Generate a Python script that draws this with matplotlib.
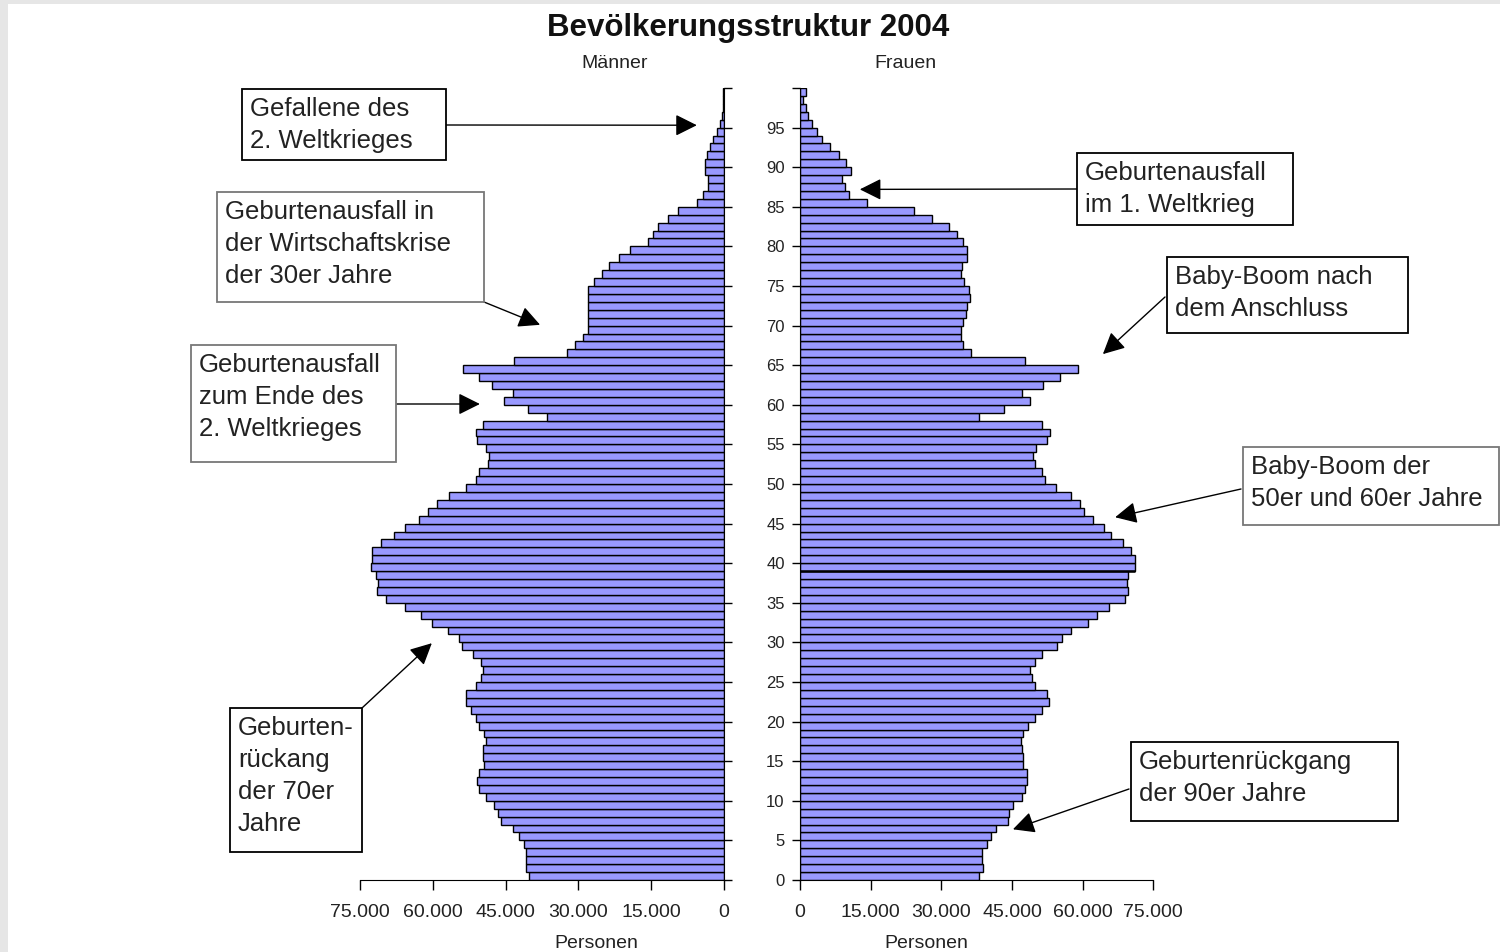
import numpy as np
import matplotlib
matplotlib.use("Agg")
import matplotlib.pyplot as plt
from matplotlib.patches import Rectangle

plt.rcParams['font.family'] = ['Liberation Sans', 'DejaVu Sans']

# Altersjahre 0..99, Werte in Tausend Personen
ages = np.arange(100)

men = [40.1, 40.7, 40.8, 40.8, 41.3, 42.2, 43.5, 46.0, 46.6, 47.3,
       49.1, 50.4, 50.8, 50.4, 49.4, 49.7, 49.7, 49.0, 49.5, 50.4,
       51.1, 52.1, 53.2, 53.2, 51.1, 50.1, 49.7, 50.1, 51.8, 54.0,
       54.7, 56.8, 60.2, 62.4, 65.7, 69.7, 71.4, 71.2, 71.7, 72.8,
       72.5, 72.5, 70.7, 67.9, 65.7, 62.8, 60.9, 59.2, 56.7, 53.2,
       51.1, 50.4, 48.7, 48.4, 49.0, 50.8, 51.1, 49.7, 36.5, 40.3,
       45.3, 43.5, 47.7, 50.4, 53.7, 43.3, 32.4, 30.6, 29.1, 28.1,
       28.1, 28.1, 28.1, 28.0, 28.0, 26.8, 25.2, 23.6, 21.6, 19.4,
       15.6, 14.7, 13.5, 11.5, 9.4, 5.6, 4.3, 3.2, 3.2, 3.9,
       3.9, 3.6, 2.9, 2.2, 1.5, 0.8, 0.4, 0.3, 0.2, 0.2]

women = [38.1, 38.8, 38.6, 38.6, 39.6, 40.5, 41.6, 44.2, 44.4, 45.3,
         47.2, 47.8, 48.1, 48.1, 47.4, 47.4, 47.1, 46.9, 47.3, 48.5,
         49.9, 51.4, 52.9, 52.4, 49.9, 49.2, 48.8, 49.9, 51.4, 54.6,
         55.7, 57.5, 61.1, 63.0, 65.7, 68.9, 69.6, 69.4, 69.6, 71.1,
         71.1, 70.3, 68.5, 66.0, 64.6, 62.1, 60.3, 59.4, 57.5, 54.3,
         52.0, 51.3, 49.9, 49.5, 50.2, 52.5, 53.1, 51.3, 38.1, 43.2,
         48.8, 47.1, 51.5, 55.3, 59.0, 47.8, 36.3, 34.7, 34.2, 34.2,
         34.5, 35.2, 35.5, 36.1, 35.9, 34.8, 34.1, 34.3, 35.4, 35.4,
         34.5, 33.4, 31.6, 28.0, 24.1, 14.2, 10.3, 9.6, 9.0, 10.8,
         9.8, 8.3, 6.4, 4.7, 3.7, 2.5, 1.8, 1.2, 0.7, 1.2]

x_ticks = [0, 15000, 30000, 45000, 60000, 75000]
y_ticks = list(range(0, 101, 5))

# Anmerkungen: Text, Box (x0, y0, x1, y1 in Pixel von oben links), Pfeilstart, Pfeilziel (Tsd., Alter), Seite
notes = [
    ("Gefallene des\n2. Weltkrieges", (242, 89, 446, 160), (446, 125), (5.6, 95.3), "L", "black"),
    ("Geburtenausfall in\nder Wirtschaftskrise\nder 30er Jahre", (217, 192, 484, 302), (484, 302), (37.9, 70.1), "L", "#777777"),
    ("Geburtenausfall\nzum Ende des\n2. Weltkrieges", (191, 345, 396, 462), (396, 404), (50.3, 60.1), "L", "#777777"),
    ("Geburten-\nrückang\nder 70er\nJahre", (230, 708, 362, 852), (362, 708), (60.2, 29.9), "L", "black"),
    ("Geburtenausfall\nim 1. Weltkrieg", (1077, 153, 1293, 225), (1077, 189), (12.7, 87.2), "R", "black"),
    ("Baby-Boom nach\ndem Anschluss", (1167, 257, 1408, 333), (1165, 297), (64.3, 66.4), "R", "black"),
    ("Baby-Boom der\n50er und 60er Jahre", (1243, 447, 1499, 525), (1241, 489), (66.9, 45.8), "R", "#777777"),
    ("Geburtenrückgang\nder 90er Jahre", (1131, 742, 1398, 821), (1129, 789), (45.2, 6.4), "R", "black"),
]

W, H = 1500, 952
fig = plt.figure(figsize=(W / 100, H / 100), dpi=100)
fig.patch.set_facecolor('#e6e6e6')


def px(x, y):
    return (x / W, 1 - y / H)


fig.add_artist(Rectangle(px(8, H), (W - 8) / W, (H - 4) / H, transform=fig.transFigure,
                         facecolor='white', edgecolor='none', zorder=-5))

bottom = 1 - 880 / H
height = 792 / H
axL = fig.add_axes([360 / W, bottom, 364 / W, height])
axR = fig.add_axes([800 / W, bottom, 353.3 / W, height])

bar_color = '#9999ff'
axL.barh(ages + 0.5, np.array(men) * 1000, height=1.0, color=bar_color,
         edgecolor='black', linewidth=1.0)
axR.barh(ages + 0.5, np.array(women) * 1000, height=1.0, color=bar_color,
         edgecolor='black', linewidth=1.0)
# dicke Linie unter dem Balken fuer 39 Jahre (wie im Original)
axR.hlines(39, 0, women[39] * 1000, color='black', linewidth=1.8)


def fmt(v):
    return f"{v:,}".replace(',', '.')


for ax in (axL, axR):
    ax.set_facecolor('none')
    ax.set_ylim(0, 100)
    ax.set_yticks(y_ticks)
    ax.set_xticks(x_ticks)
    ax.set_xticklabels([fmt(v) for v in x_ticks], fontsize=14, color='#222222')
    ax.tick_params(axis='x', direction='out', length=7, width=1, pad=10)
    ax.tick_params(axis='y', direction='out', length=6, width=1)
    ax.spines['top'].set_visible(False)

axL.set_xlim(75000, 0)
axL.spines['left'].set_visible(False)
axL.yaxis.tick_right()
axL.set_yticklabels([])

axR.set_xlim(0, 75000)
axR.spines['right'].set_visible(False)
axR.set_yticklabels([str(v) if v < 100 else '' for v in y_ticks], fontsize=12, color='#222222')
axR.tick_params(axis='y', pad=5)

fig.text(*px(748, 28), "Bevölkerungsstruktur 2004", fontsize=22.5, fontweight='bold',
         ha='center', va='center', color='#111111')
fig.text(*px(615, 64), "Männer", fontsize=14, ha='center', va='center', color='#222222')
fig.text(*px(905, 64), "Frauen", fontsize=14, ha='center', va='center', color='#222222')
fig.text(*px(596, 943), "Personen", fontsize=14, ha='center', va='center', color='#222222')
fig.text(*px(926, 943), "Personen", fontsize=14, ha='center', va='center', color='#222222')

for text, (x0, y0, x1, y1), start, tip, side, ec in notes:
    fig.add_artist(Rectangle(px(x0, y1), (x1 - x0) / W, (y1 - y0) / H, transform=fig.transFigure,
                             facecolor='white', edgecolor=ec, linewidth=1.3, zorder=3))
    fig.text(*px(x0 + 8, y0 + 8), text, fontsize=18.5, ha='left', va='top',
             linespacing=1.42, color='#222222', zorder=4)
    ax = axL if side == "L" else axR
    ax.annotate('', xy=(tip[0] * 1000, tip[1]), xycoords='data',
                xytext=px(*start), textcoords='figure fraction',
                arrowprops=dict(arrowstyle='-|>,head_length=0.6,head_width=0.3',
                                mutation_scale=22, color='black', lw=1,
                                shrinkA=0, shrinkB=0),
                annotation_clip=False)

fig.savefig("out.png", dpi=100, facecolor=fig.get_facecolor())
